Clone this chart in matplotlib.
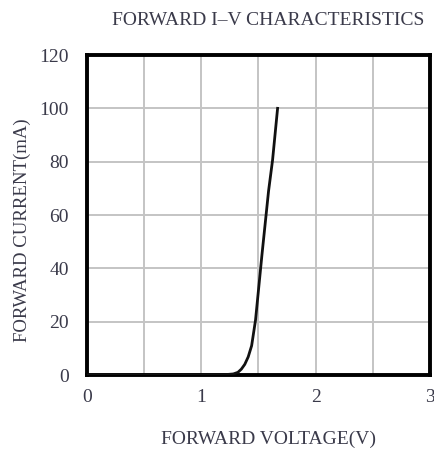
import matplotlib
matplotlib.use("Agg")
import matplotlib.pyplot as plt

# forward I-V curve
voltage = [0.0, 1.0, 1.2, 1.28, 1.32, 1.35, 1.38, 1.41, 1.44, 1.474, 1.53, 1.588, 1.623, 1.667]
current = [0.0, 0.0, 0.1, 0.4, 1.0, 2.2, 4.0, 6.8, 11.0, 20.6, 45.0, 69.0, 80.6, 100.0]
x_ticks = [0, 1, 2, 3]
y_ticks = [0, 20, 40, 60, 80, 100, 120]

plt.rcParams['font.family'] = ['Liberation Serif', 'DejaVu Serif']
text_color = "#3a3a4a"

fig = plt.figure(figsize=(4.35, 4.51), dpi=100)
ax = fig.add_axes([0.2, 0.1685, 0.7885, 0.7095])

ax.plot(voltage, current, color="#111111", lw=2.0, zorder=3,
        solid_joinstyle="round")

ax.set_xlim(0, 3)
ax.set_ylim(0, 120)
ax.set_xticks(x_ticks)
ax.set_yticks(y_ticks)
ax.set_xticks([0.5, 1.5, 2.5], minor=True)
ax.grid(True, which="both", color="#c4c4c4", lw=1.4)
ax.tick_params(which="both", length=0, labelsize=14, colors=text_color, pad=10)
ax.tick_params(axis="y", pad=13)
for s in ax.spines.values():
    s.set_linewidth(2.8)
    s.set_color("black")

fig.text(0.617, 0.955, "FORWARD I\u2013V CHARACTERISTICS", ha="center", va="center",
         fontsize=14, color=text_color)
fig.text(0.617, 0.025, "FORWARD VOLTAGE(V)", ha="center", va="center",
         fontsize=14, color=text_color)
fig.text(0.052, 0.49, "FORWARD CURRENT(mA)", ha="center", va="center",
         rotation=90, fontsize=13.5, color=text_color)

fig.savefig("out.png", dpi=100)
